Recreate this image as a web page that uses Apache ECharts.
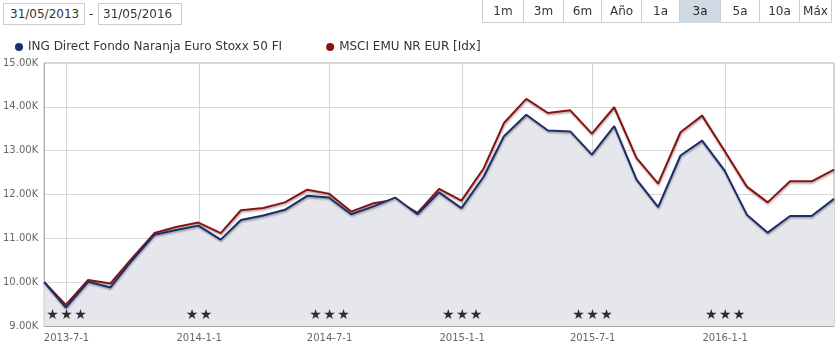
<!DOCTYPE html>
<html>
<head>
<meta charset="utf-8">
<script src="https://cdn.jsdelivr.net/npm/echarts@6/dist/echarts.min.js"></script>
<style>
  html, body { margin: 0; padding: 0; background: #fff; }
  body { width: 838px; height: 344px; position: relative; overflow: hidden; font-family: "DejaVu Sans", Verdana, sans-serif; }
  #chart { position: absolute; left: 0; top: 0; width: 838px; height: 344px; }
  .datebox { position: absolute; top: 3px; height: 20px; border: 1px solid #ccc; font-size: 12px; color: #333; line-height: 20px; box-sizing: content-box; background: #fff; }
  .dash { position: absolute; top: 3px; left: 89px; font-size: 12px; color: #333; line-height: 22px; }
  #btns { position: absolute; top: 0; left: 482px; height: 23px; display: flex; border: 1px solid #ccc; border-top: none; box-sizing: border-box; background: #fff; }
  #btns div { height: 23px; line-height: 23px; text-align: center; font-size: 12px; color: #333; border-left: 1px solid #ccc; box-sizing: border-box; }
  #btns div:first-child { border-left: none; }
  #btns div.sel { background: #cfd9e4; color: #222; }
</style>
</head>
<body>
<div id="chart"></div>
<div class="datebox" style="left:3px;width:74px;padding-left:6px;">31/05/2013</div>
<div class="dash">-</div>
<div class="datebox" style="left:98px;width:78px;padding-left:4px;">31/05/2016</div>
<div id="btns"></div>
<script>
// ---- data ----
const dates = ['2013-05-31','2013-06-30','2013-07-31','2013-08-31','2013-09-30','2013-10-31','2013-11-30','2013-12-31',
  '2014-01-31','2014-02-28','2014-03-31','2014-04-30','2014-05-31','2014-06-30','2014-07-31','2014-08-31','2014-09-30','2014-10-31','2014-11-30','2014-12-31',
  '2015-01-31','2015-02-28','2015-03-31','2015-04-30','2015-05-31','2015-06-30','2015-07-31','2015-08-31','2015-09-30','2015-10-31','2015-11-30','2015-12-31',
  '2016-01-31','2016-02-29','2016-03-31','2016-04-30','2016-05-31'];
const fundValues = [10000, 9420, 10010, 9880, 10500, 11080, 11190, 11290,
  10970, 11420, 11520, 11650, 11970, 11930, 11550, 11730, 11930, 11550, 12050, 11690,
  12410, 13330, 13820, 13460, 13440, 12910, 13560, 12340, 11710, 12890, 13230, 12550,
  11540, 11130, 11510, 11510, 11900];
const indexValues = [10000, 9480, 10050, 9970, 10550, 11120, 11260, 11360,
  11120, 11640, 11690, 11820, 12110, 12020, 11610, 11800, 11880, 11580, 12130, 11860,
  12600, 13630, 14180, 13860, 13920, 13390, 13990, 12830, 12250, 13420, 13800, 13000,
  12180, 11820, 12300, 12300, 12570];
const fundName = 'ING Direct Fondo Naranja Euro Stoxx 50 FI';
const indexName = 'MSCI EMU NR EUR [Idx]';
const starDates = ['2013-07-01','2014-01-01','2014-07-01','2015-01-01','2015-07-01','2016-01-01'];
const starCounts = [3, 2, 3, 3, 3, 3];
const starLevel = 9250;
const rangeButtons = ['1m','3m','6m','Año','1a','3a','5a','10a','Máx'];
const buttonWidths = [40, 40, 38, 40, 38, 41, 39, 40, 32];
const selectedButton = '3a';
const xMin = '2013-05-31', xMax = '2016-05-31';

// ---- buttons ----
const btns = document.getElementById('btns');
rangeButtons.forEach((b, i) => {
  const d = document.createElement('div');
  d.textContent = b;
  d.style.width = buttonWidths[i] + 'px';
  if (b === selectedButton) d.className = 'sel';
  btns.appendChild(d);
});

// ---- chart ----
const chart = echarts.init(document.getElementById('chart'), null, { renderer: 'canvas' });
const FONT = '"DejaVu Sans", Verdana, sans-serif';
const pad = n => String(n);
const lineShadow = { shadowColor: 'rgba(0,0,0,0.35)', shadowBlur: 2, shadowOffsetY: 1.5, shadowOffsetX: 0.5 };
chart.setOption({
  animation: false,
  textStyle: { fontFamily: FONT },
  legend: {
    left: 10, top: 36, icon: 'circle', itemWidth: 8, itemHeight: 8, itemGap: 44,
    textStyle: { fontSize: 12, color: '#333', fontFamily: FONT },
    data: [fundName, indexName], selectedMode: false
  },
  grid: { left: 43, right: 4, top: 63, bottom: 18, show: true, borderColor: '#aaa', borderWidth: 1 },
  xAxis: {
    type: 'time', min: xMin, max: xMax,
    minInterval: 180 * 86400000, maxInterval: 184 * 86400000,
    axisLine: { lineStyle: { color: '#aaa' } },
    axisTick: { show: false },
    splitLine: { show: true, lineStyle: { color: '#d4d4d4' } },
    axisLabel: {
      color: '#666', fontSize: 10, margin: 7, fontFamily: FONT,
      formatter: v => { const d = new Date(v); return d.getFullYear() + '-' + pad(d.getMonth() + 1) + '-' + pad(d.getDate()); }
    }
  },
  yAxis: {
    type: 'value', min: 9000, max: 15000, interval: 1000,
    axisLine: { show: true, lineStyle: { color: '#aaa' } },
    axisTick: { show: false },
    splitLine: { lineStyle: { color: '#d8d8d8' } },
    axisLabel: { color: '#666', fontSize: 10, margin: 6, fontFamily: FONT, formatter: v => (v / 1000).toFixed(2) + 'K' }
  },
  series: [
    {
      name: fundName, type: 'line', data: dates.map((d, i) => [d, fundValues[i]]),
      symbol: 'none', z: 3, color: '#1b2d6b',
      lineStyle: Object.assign({ width: 2, color: '#1b2d6b' }, lineShadow),
      areaStyle: { color: '#e6e7ed', origin: 'start', opacity: 1 }
    },
    {
      name: indexName, type: 'line', data: dates.map((d, i) => [d, indexValues[i]]),
      symbol: 'none', z: 2, color: '#8b1212',
      lineStyle: Object.assign({ width: 2, color: '#8b1212' }, lineShadow)
    },
    {
      type: 'scatter', z: 5, symbolSize: 2, itemStyle: { color: 'rgba(0,0,0,0)' }, silent: true,
      data: starDates.map((d, i) => [d, starLevel, starCounts[i]]),
      label: {
        show: true, position: 'inside', color: '#000', fontSize: 14, fontFamily: FONT,
        formatter: p => Array(p.value[2]).fill('★').join('\u200A')
      },
      labelLayout: { hideOverlap: false }
    }
  ]
});
</script>
</body>
</html>
